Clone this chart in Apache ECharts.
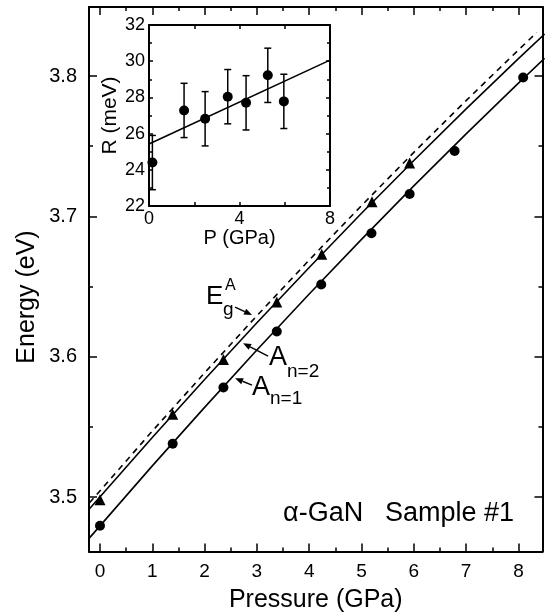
<!DOCTYPE html>
<html><head><meta charset="utf-8">
<script src="https://cdn.jsdelivr.net/npm/echarts@6/dist/echarts.min.js"></script>
<style>html,body{margin:0;padding:0;background:#fff}#c{width:546px;height:613px}</style>
</head><body><div id="c"></div>
<script>
// ---- data ----
const xTicks = [0, 1, 2, 3, 4, 5, 6, 7, 8];
const xMinorTicks = [0.5, 1.5, 2.5, 3.5, 4.5, 5.5, 6.5, 7.5];
const yTicks = [3.5, 3.6, 3.7, 3.8];
const yMinorTicks = [3.55, 3.65, 3.75];

// A n=1 (circles)
const n1P = [0, 1.39, 2.36, 3.38, 4.23, 5.19, 5.92, 6.78, 8.09];
const n1E = [3.4795, 3.538, 3.578, 3.618, 3.6515, 3.688, 3.716, 3.7466, 3.799];
// A n=2 (triangles)
const n2P = [0, 1.39, 2.36, 3.38, 4.24, 5.2, 5.92];
const n2E = [3.498, 3.559, 3.598, 3.639, 3.673, 3.7105, 3.738];

// fit curves
const fitP = [-0.2, 1, 2, 3, 4, 5, 6, 7, 8, 8.5];
const fitN1 = [3.4709, 3.5222, 3.5639, 3.6048, 3.6447, 3.6836, 3.7217, 3.7588, 3.7950, 3.8127];
const fitN2 = [3.4916, 3.5424, 3.5838, 3.6242, 3.6636, 3.7022, 3.7398, 3.7766, 3.8124, 3.8299];
const egP = [-0.2, 1, 2, 3, 4, 5, 6, 7, 8, 8.35];
const egE = [3.4959, 3.5470, 3.5885, 3.6292, 3.6689, 3.7077, 3.7456, 3.7825, 3.8186, 3.8310];

// inset
const inP = [0.15, 1.55, 2.48, 3.48, 4.29, 5.25, 5.96];
const inR = [24.4, 27.28, 26.82, 28.04, 27.7, 29.22, 27.78];
const inErr = [1.5, 1.5, 1.5, 1.5, 1.5, 1.5, 1.5];
const inFitP = [0, 8];
const inFitR = [25.43, 30.06];

// ---- chart ----
const FONT = 'Liberation Sans, Arial, Helvetica, sans-serif';
const zip = (a, b) => a.map((v, i) => [v, b[i]]);
const chart = echarts.init(document.getElementById('c'), null, {renderer: 'canvas'});

const mainX = {min: -0.21, max: 8.46};
const mainY = {min: 3.4612, max: 3.8492};
const AX = {lineStyle: {color: '#000', width: 2}};

function xAx(opts) {
  return Object.assign({
    type: 'value', gridIndex: 0, min: mainX.min, max: mainX.max,
    splitLine: {show: false}, axisLine: {show: false, onZero: false},
    axisLabel: {show: false}, axisTick: {show: false}
  }, opts);
}
function yAx(opts) {
  return Object.assign({
    type: 'value', gridIndex: 0, min: mainY.min, max: mainY.max,
    splitLine: {show: false}, axisLine: {show: false, onZero: false},
    axisLabel: {show: false}, axisTick: {show: false}
  }, opts);
}
const tickMaj = (vals) => ({show: true, inside: true, length: 8, customValues: vals, lineStyle: {color: '#000', width: 1.5}});
const tickMin = (vals) => ({show: true, inside: true, length: 4, customValues: vals, lineStyle: {color: '#000', width: 1.5}});

const option = {
  animation: false,
  backgroundColor: '#fff',
  textStyle: {fontFamily: FONT, color: '#000'},
  grid: [
    {left: 89, right: 3.5, top: 7, bottom: 61.5, containLabel: false, outerBoundsMode: 'none'},
    {left: 149, right: 216, top: 25, bottom: 407, containLabel: false, outerBoundsMode: 'none'}
  ],
  xAxis: [
    xAx({position: 'bottom', axisLine: {show: true, onZero: false, lineStyle: AX.lineStyle},
      axisTick: tickMaj(xTicks),
      axisLabel: {show: true, customValues: xTicks, fontSize: 19, margin: 11, color: '#000', fontFamily: FONT},
      name: 'Pressure (GPa)', nameLocation: 'middle', nameGap: 36,
      nameTextStyle: {fontSize: 25, color: '#000', fontFamily: FONT}}),
    xAx({position: 'bottom', axisTick: tickMin(xMinorTicks)}),
    xAx({position: 'top', axisLine: {show: true, onZero: false, lineStyle: AX.lineStyle}, axisTick: tickMaj(xTicks)}),
    xAx({position: 'top', axisTick: tickMin(xMinorTicks)}),
    // inset
    {type: 'value', gridIndex: 1, position: 'bottom', min: 0, max: 8, interval: 4,
      splitLine: {show: false},
      axisLine: {onZero: false, lineStyle: {color: '#000', width: 2}},
      axisTick: {inside: true, length: 4, lineStyle: {color: '#000', width: 1.5}},
      minorTick: {show: true, splitNumber: 2, length: 4, lineStyle: {color: '#000', width: 1.5}},
      axisLabel: {fontSize: 18, margin: 4, color: '#000', fontFamily: FONT},
      name: 'P (GPa)', nameLocation: 'middle', nameGap: 20,
      nameTextStyle: {fontSize: 20, color: '#000', fontFamily: FONT}},
    {type: 'value', gridIndex: 1, position: 'top', min: 0, max: 8, interval: 4,
      splitLine: {show: false},
      axisLine: {onZero: false, lineStyle: {color: '#000', width: 2}},
      axisTick: {inside: true, length: 4, lineStyle: {color: '#000', width: 1.5}},
      minorTick: {show: true, splitNumber: 2, length: 4, lineStyle: {color: '#000', width: 1.5}},
      axisLabel: {show: false}}
  ],
  yAxis: [
    yAx({position: 'left', axisLine: {show: true, onZero: false, lineStyle: AX.lineStyle},
      axisTick: tickMaj(yTicks),
      axisLabel: {show: true, customValues: yTicks, fontSize: 20, margin: 12, color: '#000', fontFamily: FONT,
        formatter: v => v.toFixed(1)}}),
    yAx({position: 'left', axisTick: tickMin(yMinorTicks)}),
    yAx({position: 'right', axisLine: {show: true, onZero: false, lineStyle: AX.lineStyle}, axisTick: tickMaj(yTicks)}),
    yAx({position: 'right', axisTick: tickMin(yMinorTicks)}),
    {type: 'value', gridIndex: 1, position: 'left', min: 22, max: 32, interval: 2,
      splitLine: {show: false},
      axisLine: {onZero: false, lineStyle: {color: '#000', width: 2}},
      axisTick: {inside: true, length: 4, lineStyle: {color: '#000', width: 1.5}},
      minorTick: {show: true, splitNumber: 2, length: 3, lineStyle: {color: '#000', width: 1.5}},
      axisLabel: {fontSize: 18, margin: 4, color: '#000', fontFamily: FONT},
      name: 'R (meV)', nameLocation: 'middle', nameGap: 28,
      nameTextStyle: {fontSize: 21, color: '#000', fontFamily: FONT}},
    {type: 'value', gridIndex: 1, position: 'right', min: 22, max: 32, interval: 2,
      splitLine: {show: false},
      axisLine: {onZero: false, lineStyle: {color: '#000', width: 2}},
      axisTick: {inside: true, length: 4, lineStyle: {color: '#000', width: 1.5}},
      minorTick: {show: true, splitNumber: 2, length: 3, lineStyle: {color: '#000', width: 1.5}},
      axisLabel: {show: false}}
  ],
  series: [
    {type: 'line', xAxisIndex: 0, yAxisIndex: 0, data: zip(egP, egE), showSymbol: false, symbol: 'none',
      lineStyle: {color: '#000', width: 1.6, type: [6, 5]}, silent: true, z: 2},
    {type: 'line', xAxisIndex: 0, yAxisIndex: 0, data: zip(fitP, fitN2), showSymbol: false, symbol: 'none',
      lineStyle: {color: '#000', width: 1.6}, silent: true, z: 2},
    {type: 'line', xAxisIndex: 0, yAxisIndex: 0, data: zip(fitP, fitN1), showSymbol: false, symbol: 'none',
      lineStyle: {color: '#000', width: 1.6}, silent: true, z: 2},
    {type: 'scatter', xAxisIndex: 0, yAxisIndex: 0, data: zip(n2P, n2E), symbol: 'triangle', symbolSize: 11,
      itemStyle: {color: '#000', opacity: 1}, z: 3},
    {type: 'scatter', xAxisIndex: 0, yAxisIndex: 0, data: zip(n1P, n1E), symbol: 'circle', symbolSize: 10,
      itemStyle: {color: '#000', opacity: 1}, z: 3},
    // inset
    {type: 'line', xAxisIndex: 4, yAxisIndex: 4, data: zip(inFitP, inFitR), showSymbol: false, symbol: 'none',
      lineStyle: {color: '#000', width: 1.6}, silent: true, z: 2},
    {type: 'custom', xAxisIndex: 4, yAxisIndex: 4,
      data: inP.map((p, i) => [p, inR[i] - inErr[i], inR[i] + inErr[i]]),
      encode: {x: 0, y: [1, 2]},
      renderItem: function (params, api) {
        const x = api.value(0);
        const lo = api.coord([x, api.value(1)]);
        const hi = api.coord([x, api.value(2)]);
        const w = 3.5;
        const st = {stroke: '#000', lineWidth: 1.5};
        return {type: 'group', children: [
          {type: 'line', shape: {x1: lo[0], y1: lo[1], x2: hi[0], y2: hi[1]}, style: st},
          {type: 'line', shape: {x1: lo[0] - w, y1: lo[1], x2: lo[0] + w, y2: lo[1]}, style: st},
          {type: 'line', shape: {x1: hi[0] - w, y1: hi[1], x2: hi[0] + w, y2: hi[1]}, style: st}
        ]};
      }, z: 3},
    {type: 'scatter', xAxisIndex: 4, yAxisIndex: 4, data: zip(inP, inR), symbol: 'circle', symbolSize: 10,
      itemStyle: {color: '#000', opacity: 1}, z: 4}
  ]
};
chart.setOption(option);

// ---- annotations (anchored in data coordinates of the main plot) ----
const toPx = (p) => chart.convertToPixel({xAxisIndex: 0, yAxisIndex: 0}, p);
function txt(anchor, text, size) {
  const p = toPx(anchor);
  return {type: 'text', x: p[0], y: p[1], z: 10,
    style: {text: text, fontSize: size, fontFamily: FONT, fill: '#000', align: 'left', verticalAlign: 'middle'}};
}
function arrow(tail, head) {
  const t = toPx(tail), h = toPx(head);
  const dx = h[0] - t[0], dy = h[1] - t[1];
  const L = Math.sqrt(dx * dx + dy * dy), ux = dx / L, uy = dy / L;
  const hl = 8, hw = 3.3;
  const bx = h[0] - ux * hl, by = h[1] - uy * hl;
  return [
    {type: 'line', z: 10, shape: {x1: t[0], y1: t[1], x2: bx, y2: by}, style: {stroke: '#000', lineWidth: 1.4}},
    {type: 'polygon', z: 10, shape: {points: [[h[0], h[1]], [bx - uy * hw, by + ux * hw], [bx + uy * hw, by - ux * hw]]},
      style: {fill: '#000'}}
  ];
}
const graphics = [
  {type: 'text', x: 27, y: 297, rotation: Math.PI / 2, z: 10,
    style: {text: 'Energy (eV)', fontSize: 25, fontFamily: FONT, fill: '#000', align: 'center', verticalAlign: 'middle'}},
  txt([2.027, 3.6429], 'E', 26),
  txt([2.390, 3.6504], 'A', 16),
  txt([2.352, 3.6333], 'g', 19),
  txt([3.232, 3.5991], 'A', 27),
  txt([3.576, 3.5895], 'n=2', 19),
  txt([2.907, 3.5777], 'A', 27),
  txt([3.251, 3.5698], 'n=1', 19),
  txt([3.5, 3.4879], 'α-GaN', 27),
  txt([5.45, 3.4879], 'Sample #1', 27)
].concat(
  arrow([2.582, 3.6354], [2.907, 3.6297]),
  arrow([3.213, 3.6005], [2.735, 3.6096]),
  arrow([2.907, 3.5798], [2.582, 3.5846])
);
chart.setOption({graphic: graphics});
</script></body></html>
